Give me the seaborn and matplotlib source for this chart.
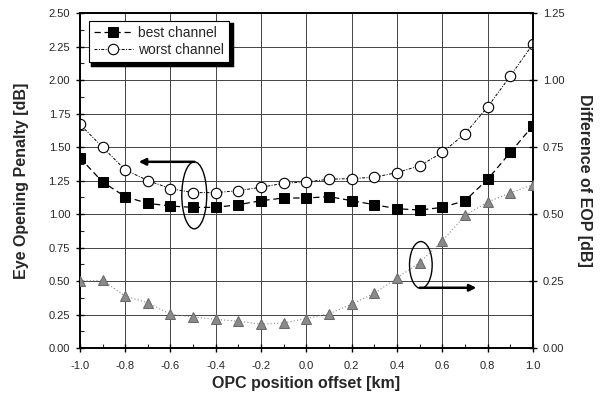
import numpy as np
import pandas as pd
import matplotlib
matplotlib.use("Agg")
import matplotlib.pyplot as plt
import seaborn as sns
from matplotlib.patches import Ellipse
from matplotlib.ticker import MultipleLocator, FormatStrFormatter

# ------------------------------------------------------------------
# data
# ------------------------------------------------------------------
offset_km = [-1.0, -0.9, -0.8, -0.7, -0.6, -0.5, -0.4, -0.3, -0.2, -0.1, 0.0,
             0.1, 0.2, 0.3, 0.4, 0.5, 0.6, 0.7, 0.8, 0.9, 1.0]
best_channel = [1.42, 1.24, 1.13, 1.08, 1.06, 1.05, 1.05, 1.07, 1.10, 1.12, 1.12,
                1.13, 1.10, 1.07, 1.04, 1.03, 1.05, 1.10, 1.26, 1.46, 1.66]
worst_channel = [1.67, 1.50, 1.33, 1.25, 1.19, 1.16, 1.16, 1.175, 1.20, 1.23, 1.24,
                 1.26, 1.265, 1.275, 1.31, 1.36, 1.46, 1.60, 1.80, 2.03, 2.27]
eop_difference = [0.25, 0.253, 0.194, 0.169, 0.126, 0.116, 0.107, 0.10, 0.089, 0.094, 0.11,
                  0.128, 0.164, 0.204, 0.262, 0.319, 0.40, 0.495, 0.545, 0.579, 0.61]

df = pd.DataFrame({"offset": offset_km, "best": best_channel,
                   "worst": worst_channel, "diff": eop_difference})

# ------------------------------------------------------------------
# style
# ------------------------------------------------------------------
sns.set_theme(style="ticks")
plt.rcParams["font.family"] = ["Liberation Sans", "DejaVu Sans"]

fig = plt.figure(figsize=(6.05, 4.09), dpi=100)
ax = fig.add_axes([0.132, 0.149, 0.749, 0.819])
ax2 = ax.twinx()

sns.lineplot(data=df, x="offset", y="best", ax=ax, color="black", marker="s",
             markersize=7, markeredgecolor="black", linewidth=0.9,
             label="best channel", zorder=4)
ax.lines[-1].set_dashes((5, 3))
sns.lineplot(data=df, x="offset", y="worst", ax=ax, color="black", marker="o",
             markersize=7.5, markerfacecolor="white", markeredgecolor="black",
             markeredgewidth=0.8, linewidth=0.7, label="worst channel", zorder=4)
ax.lines[-1].set_dashes((3, 1.5, 1, 1.5))

sns.lineplot(data=df, x="offset", y="diff", ax=ax2, color="#8a8a8a", marker="^",
             markersize=7.5, markerfacecolor="#8a8a8a", markeredgecolor="#6a6a6a",
             linewidth=0.8, legend=False, zorder=4)
ax2.lines[-1].set_dashes((1, 2))

# axes limits / ticks
ax.set_xlim(-1.0, 1.0)
ax.set_ylim(0, 2.5)
ax2.set_ylim(0, 1.25)
ax.xaxis.set_major_locator(MultipleLocator(0.2))
ax.xaxis.set_minor_locator(MultipleLocator(0.1))
ax.yaxis.set_major_locator(MultipleLocator(0.25))
ax.yaxis.set_minor_locator(MultipleLocator(0.125))
ax2.yaxis.set_major_locator(MultipleLocator(0.25))
ax2.yaxis.set_minor_locator(MultipleLocator(0.125))
ax.xaxis.set_major_formatter(FormatStrFormatter("%.1f"))
ax.yaxis.set_major_formatter(FormatStrFormatter("%.2f"))
ax2.yaxis.set_major_formatter(FormatStrFormatter("%.2f"))

for a in (ax, ax2):
    a.tick_params(which="major", direction="inout", length=6, width=1,
                  labelsize=8, color="black", pad=4)
    a.tick_params(which="minor", direction="in", length=3, width=0.8)
    for s in a.spines.values():
        s.set_color("black")
        s.set_linewidth(1.2)
ax.tick_params(axis="x", which="major", pad=6)

ax.grid(True, which="major", color="#444444", linewidth=0.7)
ax.set_axisbelow(True)

ax.set_xlabel("OPC position offset [km]", fontsize=11.5, fontweight="bold", labelpad=4)
ax.set_ylabel("Eye Opening Penalty [dB]", fontsize=11.5, fontweight="bold", labelpad=14)
ax2.set_ylabel("Difference of EOP [dB]", fontsize=11.5, fontweight="bold",
               rotation=270, labelpad=20)
ax2.set_xlabel("")

# legend with solid black drop shadow
leg = ax.legend(loc="upper left", bbox_to_anchor=(0.02, 0.975), borderaxespad=0,
                fontsize=10, frameon=True, fancybox=False,
                shadow={"color": "black", "alpha": 1, "linewidth": 2.5},
                handlelength=2.8, borderpad=0.35, labelspacing=0.2,
                handletextpad=0.4, framealpha=1)
leg.get_frame().set_edgecolor("black")
leg.get_frame().set_linewidth(0.8)
leg.set_zorder(10)

# annotations: ellipses with arrows
ax.add_patch(Ellipse((-0.495, 1.14), 0.11, 0.5, fill=False, edgecolor="black",
                     linewidth=1, zorder=5))
ax.annotate("", xy=(-0.74, 1.39), xytext=(-0.495, 1.39),
            arrowprops=dict(arrowstyle="-|>", color="black", lw=1.8,
                            mutation_scale=10, shrinkA=0, shrinkB=0), zorder=5)
ax.add_patch(Ellipse((0.505, 0.62), 0.1, 0.35, fill=False, edgecolor="black",
                     linewidth=1, zorder=5))
ax.annotate("", xy=(0.75, 0.45), xytext=(0.5, 0.45),
            arrowprops=dict(arrowstyle="-|>", color="black", lw=1.8,
                            mutation_scale=10, shrinkA=0, shrinkB=0), zorder=5)

fig.savefig("out.png", dpi=100)
